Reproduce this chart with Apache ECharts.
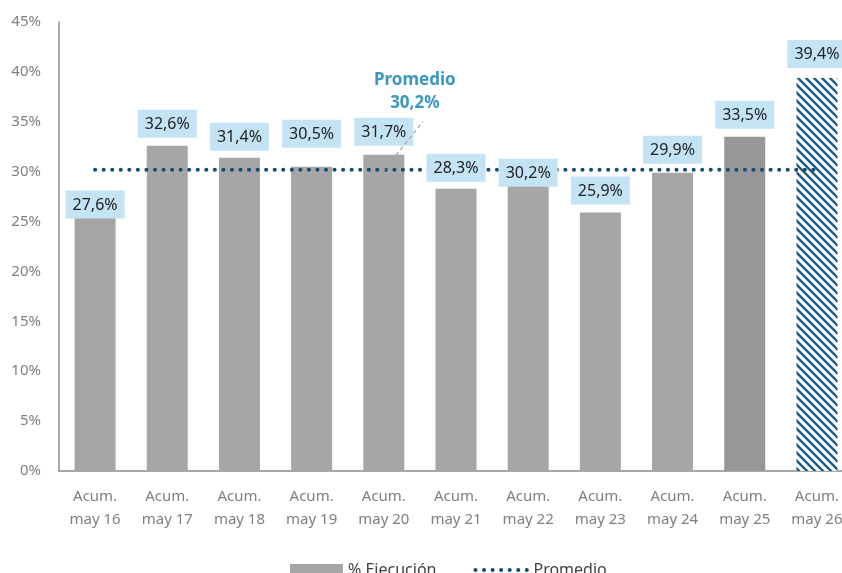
<!DOCTYPE html>
<html>
<head>
<meta charset="utf-8">
<script src="https://cdn.jsdelivr.net/npm/echarts@6/dist/echarts.min.js"></script>
<style>html,body{margin:0;padding:0;background:#fff}#c{width:842px;height:573px}</style>
</head>
<body>
<div id="c"></div>
<script>
const categories = ['Acum.\nmay 16','Acum.\nmay 17','Acum.\nmay 18','Acum.\nmay 19','Acum.\nmay 20','Acum.\nmay 21','Acum.\nmay 22','Acum.\nmay 23','Acum.\nmay 24','Acum.\nmay 25','Acum.\nmay 26'];
const ejecucion = [27.6, 32.6, 31.4, 30.5, 31.7, 28.3, 30.2, 25.9, 29.9, 33.5, 39.4];
const promedioValue = 30.2;
const promedio = categories.map(() => promedioValue);
const yTicks = [0, 5, 10, 15, 20, 25, 30, 35, 40, 45];

const FONT = '"Noto Sans", "Open Sans", sans-serif';
const labelOffsets = [29, -2, -1, -13, -3, -1, 23, -2, -3, -2, -4];

function hatch() {
  const s = 8;
  const cv = document.createElement('canvas');
  cv.width = s; cv.height = s;
  const g = cv.getContext('2d');
  g.fillStyle = '#ffffff'; g.fillRect(0, 0, s, s);
  g.strokeStyle = '#1C5A7E'; g.lineWidth = 2.4;
  g.beginPath();
  g.moveTo(-2, -2); g.lineTo(s + 2, s + 2);
  g.moveTo(-2 - s, -2); g.lineTo(2, s + 2);
  g.moveTo(s - 2, -2); g.lineTo(2 * s + 2, s + 2);
  g.stroke();
  return cv;
}

const barData = ejecucion.map((v, i) => {
  let color = '#A6A6A6';
  if (i === 9) color = '#979797';
  if (i === 10) color = { image: hatch(), repeat: 'repeat' };
  return { value: v, itemStyle: { color: color } };
});
const labelData = ejecucion.map((v, i) => ({ value: v, label: { offset: [0, labelOffsets[i]] } }));

const chart = echarts.init(document.getElementById('c'));
chart.setOption({
  animation: false,
  textStyle: { fontFamily: FONT },
  grid: { left: 59, top: 22, width: 794, height: 449, outerBoundsMode: 'none', containLabel: false },
  legend: {
    bottom: -10, left: 285,
    itemWidth: 53, itemHeight: 12, itemGap: 37,
    textStyle: { fontSize: 16, color: '#404040', fontFamily: FONT },
    data: [
      { name: '% Ejecución', icon: 'rect', itemStyle: { color: '#A6A6A6' } },
      { name: 'Promedio', itemStyle: { opacity: 0 },
        lineStyle: { color: '#154F6E', width: 4, type: [0.1, 8.45], cap: 'round' } }
    ]
  },
  xAxis: {
    type: 'category', data: categories,
    axisLine: { lineStyle: { color: '#8C8C8C', width: 1.5 } },
    axisTick: { show: false },
    axisLabel: { color: '#7F7F7F', fontSize: 15, lineHeight: 23, margin: 14, interval: 0 }
  },
  yAxis: {
    type: 'value', min: 0, max: 45, interval: 5,
    axisLine: { show: true, lineStyle: { color: '#8C8C8C', width: 1.5 } },
    axisTick: { show: false },
    splitLine: { show: false },
    axisLabel: { color: '#7F7F7F', fontSize: 15, margin: 18, formatter: '{value}%' }
  },
  series: [
    {
      name: '% Ejecución', type: 'bar', data: barData, barWidth: 41, z: 2
    },
    {
      name: 'Promedio', type: 'line', data: promedio, symbol: 'none', z: 3,
      lineStyle: { color: '#154F6E', width: 4, type: [0.1, 8.45], cap: 'round' },
      itemStyle: { color: '#154F6E' }
    },
    {
      name: 'labels', type: 'bar', data: labelData, barWidth: 41, barGap: '-100%', z: 5,
      itemStyle: { color: 'rgba(0,0,0,0)' },
      label: {
        show: true, position: 'top', distance: 6,
        formatter: p => p.value.toFixed(1).replace('.', ',') + '%',
        fontSize: 16, lineHeight: 19, color: '#222222', backgroundColor: '#C4E4F5',
        padding: [5, 7, 4, 7]
      }
    }
  ]
});

// annotation with leader line
const base = chart.convertToPixel({ seriesIndex: 1 }, [4, promedioValue]);
chart.setOption({
  graphic: [
    { type: 'line', shape: { x1: base[0] - 1, y1: base[1] + 2, x2: base[0] + 39, y2: base[1] - 48 },
      style: { stroke: '#A6A6A6', lineWidth: 1.3, lineDash: [4, 3] }, z: 10 },
    { type: 'text', x: base[0] + 31, y: base[1] - 101,
      style: { text: 'Promedio\n' + promedioValue.toFixed(1).replace('.', ',') + '%', textAlign: 'center',
        fill: '#3A98C0', font: 'bold 17px ' + FONT, lineHeight: 23 }, z: 10 }
  ]
});
</script>
</body>
</html>
